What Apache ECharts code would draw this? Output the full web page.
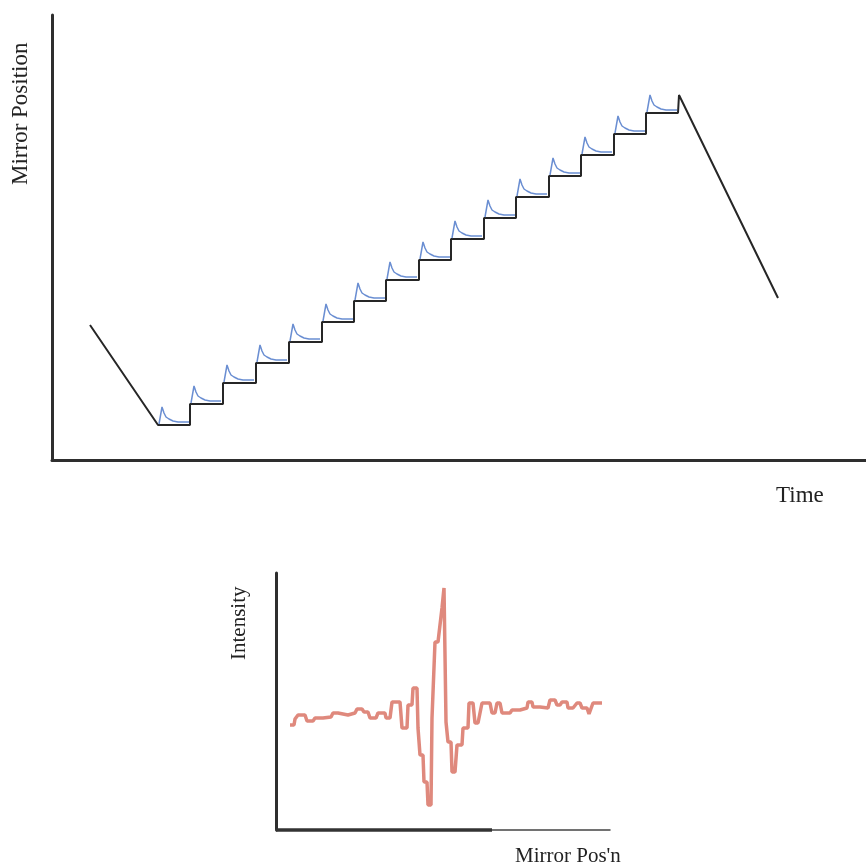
<!DOCTYPE html>
<html>
<head>
<meta charset="utf-8">
<script src="https://cdn.jsdelivr.net/npm/echarts@6/dist/echarts.min.js"></script>
<style>html,body{margin:0;padding:0;background:#fff}#c{width:866px;height:864px}</style>
</head>
<body>
<div id="c"></div>
<script>
// ---- Top panel: mirror position vs time (units) ----
const stepStartX = [106,138,171,204,237,270,302,334,367,399,432,464,497,529,562,594];
const stepEndX = 626;
const stepLevel = [35,56,77,97,118,138,159,180,200,221,242,263,284,305,326,347];
const rampIn = [[38,135],[106,35]];
const rampOut = [[627,365],[726,162]];
// blue settling transient after each step: [dx, dy] relative to step start / level
const transientProfile = [[1,1],[3,2],[4,18],[5,17],[6,12],[8,8],[11,6],[15,4],[20,3],[31,3]];

// ---- Bottom panel: intensity vs mirror position ----
const interferogram = [
 [14,105],[18,105],[19,111],[22,115],[29,115],[31,109],[37,109],[39,112],[47,112],[49,113],[55,113],
 [57,117],[62,117],[64,115],[72,115],[74,117],[79,117],[81,121],[86,121],[88,118],[92,118],[94,112],
 [100,112],[102,117],[109,117],[110,112],[114,112],[116,128],[124,128],[126,102],[131,102],[132,125],
 [136,125],[137,142],[141,142],[142,102],[144,75],[147,75],[148,48],[151,48],[152,25],[155,25],
 [156,112],[158,112],[159,188],[162,188],[164,205],[166,222],[168,242],[170,108],[172,88],[175,88],
 [176,58],[179,58],[181,85],[186,85],[187,102],[192,102],[193,127],[197,127],[199,107],[202,107],
 [206,127],[214,127],[216,117],[219,117],[221,127],[224,127],[226,117],[234,117],[236,120],[244,120],
 [246,122],[251,122],[252,128],[256,128],[257,123],[264,123],[266,122],[272,122],[274,130],[279,130],
 [281,125],[284,125],[286,128],[291,128],[292,122],[297,122],[301,127],[304,127],[306,122],[311,122],
 [313,116],[315,116],[317,127],[326,127]
];
const thickAxisPart = [[0,0],[216,0]];

// build staircase
const stair = rampIn.slice();
for (let i = 0; i < stepStartX.length; i++) {
  const xEnd = i + 1 < stepStartX.length ? stepStartX[i+1] : stepEndX;
  stair.push([stepStartX[i], stepLevel[i]]);
  stair.push([xEnd, stepLevel[i]]);
}
rampOut.forEach(p => stair.push(p));

const blue = [];
for (let i = 0; i < stepStartX.length; i++) {
  transientProfile.forEach(p => blue.push([stepStartX[i] + p[0], stepLevel[i] + p[1]]));
  blue.push(null);
}

const axisDark = {lineStyle:{color:'#2e2e2e', width:3}};
const hidden = {axisTick:{show:false}, axisLabel:{show:false}, splitLine:{show:false}};
const serif = '"Liberation Serif","DejaVu Serif",serif';

const chart = echarts.init(document.getElementById('c'), null, {renderer:'canvas'});
chart.setOption({
  backgroundColor:'#ffffff',
  animation:false,
  grid:[
    {left:52, top:15, width:814, height:445},
    {left:276, top:573, width:334, height:257}
  ],
  xAxis:[
    Object.assign({type:'value', gridIndex:0, min:0, max:814, axisLine:axisDark}, hidden),
    Object.assign({type:'value', gridIndex:1, min:0, max:334, axisLine:{lineStyle:{color:'#444', width:1.5}}}, hidden)
  ],
  yAxis:[
    Object.assign({type:'value', gridIndex:0, min:0, max:445, axisLine:axisDark}, hidden),
    Object.assign({type:'value', gridIndex:1, min:0, max:257, axisLine:axisDark}, hidden)
  ],
  graphic:[
    {type:'text', left:8, top:30, rotation:Math.PI/2, style:{text:'Mirror Position', font:'23px '+serif, fill:'#222', x:0, y:0}, x:10, y:185, rotation:Math.PI/2},
  ],
  series:[
    {type:'line', xAxisIndex:0, yAxisIndex:0, data:stair, showSymbol:false, symbol:'none',
     lineStyle:{color:'#262626', width:2}},
    {type:'line', xAxisIndex:0, yAxisIndex:0, data:blue, showSymbol:false, symbol:'none', connectNulls:false,
     lineStyle:{color:'#6a8ed2', width:1.5}},
    {type:'line', xAxisIndex:1, yAxisIndex:1, data:interferogram, showSymbol:false, symbol:'none',
     lineStyle:{color:'#df897d', width:3.5}},
    {type:'line', xAxisIndex:1, yAxisIndex:1, data:thickAxisPart, showSymbol:false, symbol:'none', clip:false,
     lineStyle:{color:'#333', width:3.5}}
  ]
});
// axis titles as real text
chart.setOption({graphic:[
  {type:'text', x:9, y:185, rotation:Math.PI/2, style:{text:'Mirror Position', font:'23px '+serif, fill:'#222'}},
  {type:'text', x:776, y:484, style:{text:'Time', font:'23px '+serif, fill:'#222'}},
  {type:'text', x:229, y:660, rotation:Math.PI/2, style:{text:'Intensity', font:'21px '+serif, fill:'#222'}},
  {type:'text', x:515, y:846, style:{text:"Mirror Pos'n", font:'21px '+serif, fill:'#222'}}
]}, {replaceMerge:['graphic']});
</script>
</body>
</html>
